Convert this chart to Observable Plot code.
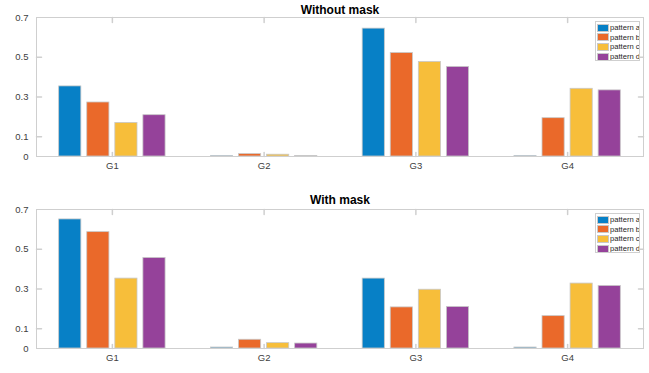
<!DOCTYPE html>
<html><head><meta charset="utf-8">
<script src="https://cdn.jsdelivr.net/npm/d3@7"></script>
<script src="https://cdn.jsdelivr.net/npm/@observablehq/plot@0.6"></script>
<style>
body{margin:0;background:#fff;font-family:Arial,"Liberation Sans",sans-serif;}
#wrap{position:relative;width:649px;}
.panel{position:relative;width:649px;}
.panel svg{display:block;}
.legend{position:absolute;border:1px solid #cfcfcf;background:#fff;padding:1px 0 1px 1px;font:7.6px Arial,"Liberation Sans",sans-serif;color:#262626;overflow:hidden;box-sizing:border-box;}
.legend .row{display:flex;align-items:center;height:9.6px;white-space:nowrap;}
.legend .sw{width:12px;height:8px;margin-right:1px;flex:none;box-sizing:border-box;border:0.5px solid #c8c8c8;}
</style>
</head><body>
<div id="wrap"></div>
<script>
const groups = ["G1", "G2", "G3", "G4"];
const patterns = ["pattern a", "pattern b", "pattern c", "pattern d"];
const colors = ["#0780c6", "#ea692a", "#f7be3a", "#95429a"];
const yTicks = [0, 0.1, 0.3, 0.5, 0.7];

const withoutMaskA = [0.353, 0.002, 0.644, 0.002];
const withoutMaskB = [0.272, 0.012, 0.521, 0.193];
const withoutMaskC = [0.169, 0.009, 0.476, 0.341];
const withoutMaskD = [0.208, 0.003, 0.451, 0.333];

const withMaskA = [0.650, 0.005, 0.352, 0.005];
const withMaskB = [0.586, 0.044, 0.207, 0.163];
const withMaskC = [0.352, 0.027, 0.296, 0.327];
const withMaskD = [0.456, 0.025, 0.209, 0.315];

function table(series) {
  const rows = [];
  groups.forEach((g, gi) => {
    series.forEach((vals, pi) => {
      rows.push({group: g, gi: gi + 1, pattern: patterns[pi], pi, value: vals[gi]});
    });
  });
  return rows;
}

// MATLAB-style grouped bars: group centres at integers, bars offset inside
const groupWidth = 0.74;
const step = groupWidth / patterns.length;
const barW = step * 0.79;
const off = d => d.gi + (d.pi - (patterns.length - 1) / 2) * step;

const tickLine = {draw(ctx, l) { ctx.moveTo(0, 0); ctx.lineTo(0, -l); }};
const gray = "#cfcfcf";

function panel(title, series, opts) {
  const data = table(series);
  const chart = Plot.plot({
    width: 649,
    height: opts.height,
    marginTop: opts.marginTop,
    marginBottom: opts.marginBottom,
    marginLeft: 36,
    marginRight: 6,
    style: {fontFamily: "Arial, 'Liberation Sans', sans-serif", fontSize: "9.5px", background: "#fff", color: "#404040"},
    x: {domain: [0.5, 4.5], ticks: [1, 2, 3, 4], tickFormat: i => groups[i - 1], tickSize: 0, tickPadding: 6, label: null},
    y: {domain: [0, 0.7], ticks: yTicks, tickFormat: d => d === 0 ? "0" : d3.format(".1f")(d), tickSize: 0, tickPadding: 8, label: null},
    color: {domain: patterns, range: colors},
    marks: [
      Plot.rectY(data, {x1: d => off(d) - barW / 2, x2: d => off(d) + barW / 2, y: "value", fill: "pattern", stroke: "#c8c8c8", strokeWidth: 0.8}),
      Plot.frame({stroke: gray, strokeWidth: 1}),
      Plot.vector(yTicks.slice(1, -1), {y: d => d, frameAnchor: "left", rotate: 90, length: 5, anchor: "start", shape: tickLine, stroke: gray}),
      Plot.vector(yTicks.slice(1, -1), {y: d => d, frameAnchor: "right", rotate: -90, length: 5, anchor: "start", shape: tickLine, stroke: gray}),
      Plot.vector([1, 2, 3, 4], {x: d => d, frameAnchor: "top", rotate: 180, length: 5, anchor: "start", shape: tickLine, stroke: gray}),
      Plot.vector([1, 2, 3, 4], {x: d => d, frameAnchor: "bottom", rotate: 0, length: 4, anchor: "start", shape: tickLine, stroke: gray}),
      Plot.text([title], {frameAnchor: "top", dy: -opts.titleDy, lineAnchor: "middle", fontSize: 12, fontWeight: "bold", fill: "#000"})
    ]
  });
  const div = document.createElement("div");
  div.className = "panel";
  div.appendChild(chart);
  const lg = document.createElement("div");
  lg.className = "legend";
  lg.style.left = "595px";
  lg.style.top = (opts.marginTop + 4) + "px";
  lg.style.width = "45px";
  lg.style.height = "40px";
  patterns.forEach((p, i) => {
    const r = document.createElement("div");
    r.className = "row";
    const s = document.createElement("span");
    s.className = "sw";
    s.style.background = colors[i];
    const t = document.createElement("span");
    t.textContent = p;
    r.appendChild(s); r.appendChild(t);
    lg.appendChild(r);
  });
  div.appendChild(lg);
  return div;
}

const wrap = document.getElementById("wrap");
wrap.appendChild(panel("Without mask", [withoutMaskA, withoutMaskB, withoutMaskC, withoutMaskD], {height: 186, marginTop: 17, marginBottom: 30, titleDy: 7}));
wrap.appendChild(panel("With mask", [withMaskA, withMaskB, withMaskC, withMaskD], {height: 187, marginTop: 23, marginBottom: 25, titleDy: 9}));
</script>
</body></html>
